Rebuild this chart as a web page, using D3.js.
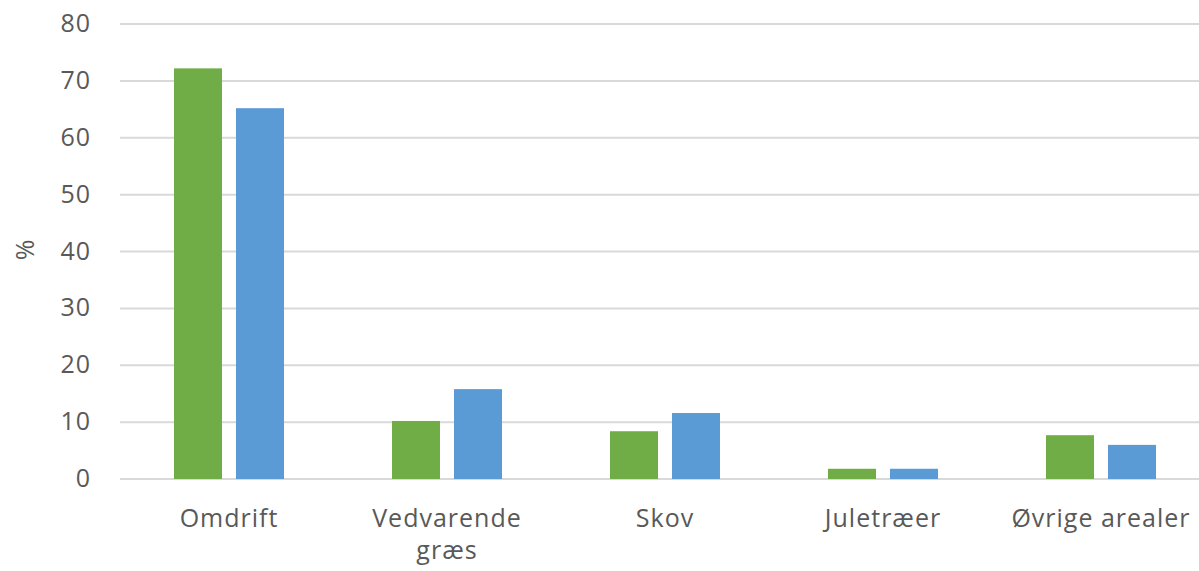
<!DOCTYPE html>
<html><head><meta charset="utf-8">
<script src="https://cdn.jsdelivr.net/npm/d3@7"></script>
<style>body{margin:0;background:#fff;} text{font-family:"Open Sans",sans-serif;fill:#595959;}</style>
</head><body>
<svg id="c" width="1199" height="571"></svg>
<script>
const categories = ["Omdrift", "Vedvarende græs", "Skov", "Juletræer", "Øvrige arealer"];
const seriesGreen = [72.2, 10.2, 8.4, 1.8, 7.7];
const seriesBlue = [65.2, 15.8, 11.6, 1.8, 6.0];
const yTicks = [0, 10, 20, 30, 40, 50, 60, 70, 80];

const svg = d3.select("#c");
const x = d3.scaleBand().domain(categories).range([120, 1210]);
const y = d3.scaleLinear().domain([0, 80]).range([479, 24]);

// gridlines
svg.append("g").selectAll("line").data(yTicks).join("line")
  .attr("x1", 120).attr("x2", 1199)
  .attr("y1", d => y(d)).attr("y2", d => y(d))
  .attr("stroke", "#d9d9d9").attr("stroke-width", 2);

// y labels
svg.append("g").selectAll("text").data(yTicks).join("text")
  .attr("x", 91).attr("y", d => y(d) - 1).attr("dy", "0.36em")
  .attr("text-anchor", "end").attr("font-size", 25).attr("letter-spacing", 1).text(d => d);

svg.append("text").attr("transform", "translate(25,250) rotate(-90)")
  .attr("text-anchor", "middle").attr("dy", "0.36em").attr("font-size", 25).text("%");

const barW = 48, gap = 14;
const cx = c => x(c) + x.bandwidth() / 2;
svg.append("g").selectAll("rect").data(categories).join("rect")
  .attr("x", c => cx(c) - gap / 2 - barW)
  .attr("y", (c, i) => y(seriesGreen[i]))
  .attr("width", barW)
  .attr("height", (c, i) => y(0) - y(seriesGreen[i]))
  .attr("fill", "#70ad47");
svg.append("g").selectAll("rect").data(categories).join("rect")
  .attr("x", c => cx(c) + gap / 2)
  .attr("y", (c, i) => y(seriesBlue[i]))
  .attr("width", barW)
  .attr("height", (c, i) => y(0) - y(seriesBlue[i]))
  .attr("fill", "#5b9bd5");

// x labels
const lines = c => c === "Vedvarende græs" ? ["Vedvarende", "græs"] : [c];
const xl = svg.append("g").selectAll("text").data(categories).join("text")
  .attr("x", cx).attr("y", 527).attr("text-anchor", "middle").attr("font-size", 25).attr("letter-spacing", 1);
xl.each(function(c) {
  const t = d3.select(this);
  lines(c).forEach((l, i) => t.append("tspan").attr("x", cx(c)).attr("dy", i ? 32 : 0).text(l));
});
</script>
</body></html>
